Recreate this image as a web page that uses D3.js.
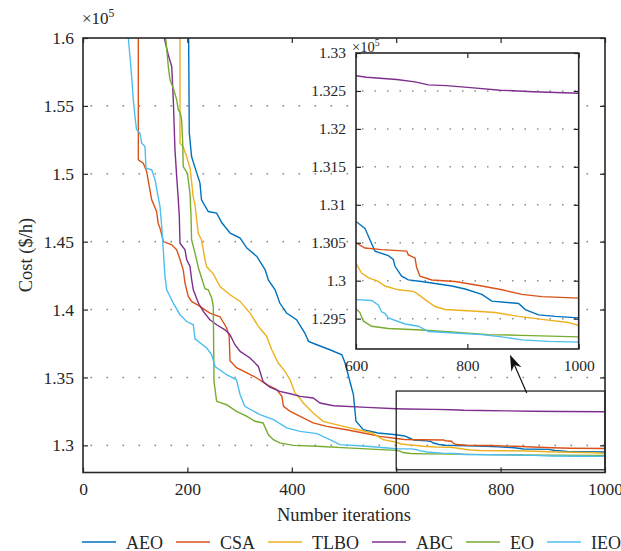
<!DOCTYPE html>
<html>
<head>
<meta charset="utf-8">
<script src="https://d3js.org/d3.v7.min.js"></script>
<style>
  body { margin: 0; background: #fff; }
  text { font-family: "Liberation Serif", "Times New Roman", serif; fill: #262626; }
</style>
</head>
<body>
<script>
// cost values are in units of 10^5 $/h
var names = ["AEO", "CSA", "TLBO", "ABC", "EO", "IEO"]
var colors = ["#0072BD", "#D95319", "#EDB120", "#7E2F8E", "#77AC30", "#4DBEEE"]

var aeoIter = [202, 203.6, 208, 216, 224, 227, 240, 256, 266, 282, 301, 314, 333, 349, 355, 368, 377, 390, 409, 425, 432, 448, 473, 496, 502, 512, 518, 523, 537, 565, 600, 616, 625, 634, 658, 667, 670, 682, 694, 718, 772, 796, 826, 844, 892, 904, 928, 958, 1000]
var aeoCost = [1.62, 1.5301, 1.5127, 1.5029, 1.4933, 1.4808, 1.4722, 1.4710, 1.4639, 1.4563, 1.4526, 1.4453, 1.4391, 1.4293, 1.4219, 1.4146, 1.4048, 1.3975, 1.3925, 1.3827, 1.3766, 1.3741, 1.3704, 1.3667, 1.3606, 1.3461, 1.3373, 1.3177, 1.3115, 1.3091, 1.3078, 1.3069, 1.3054, 1.3039, 1.3033, 1.3028, 1.3019, 1.3006, 1.3001, 1.2999, 1.2993, 1.2989, 1.2982, 1.2973, 1.2970, 1.2962, 1.2955, 1.2953, 1.2951]

var csaIter = [106, 106, 115.5, 122, 127, 131.6, 141, 144, 147.5, 154, 170, 179.5, 186, 192, 195.4, 201.7, 208, 224, 243, 262.5, 275, 280, 281.6, 294, 314, 333, 352, 371, 381, 384, 397, 416, 441, 467, 505, 537, 569, 600, 616, 646, 691, 694, 706, 709, 715, 736, 778, 826, 862, 898, 934, 1000]
var csaCost = [1.62, 1.5102, 1.5078, 1.5016, 1.4906, 1.4808, 1.4722, 1.4636, 1.4600, 1.4501, 1.4477, 1.4440, 1.4367, 1.4293, 1.4195, 1.4097, 1.4060, 1.4023, 1.3974, 1.3947, 1.3866, 1.3807, 1.3623, 1.3572, 1.3533, 1.3496, 1.3447, 1.3410, 1.3361, 1.3287, 1.3250, 1.3213, 1.3165, 1.3140, 1.3115, 1.3091, 1.3066, 1.3050, 1.3043, 1.3041, 1.3039, 1.3034, 1.3030, 1.3017, 1.3006, 1.3001, 1.2999, 1.2993, 1.2988, 1.2982, 1.2979, 1.2977]

var tlboIter = [185.8, 185.8, 192, 198.7, 205, 208, 211, 214.6, 217.8, 221, 227, 233.7, 237, 249.6, 262.5, 281.6, 301, 320, 336, 352, 361.5, 374, 387, 396.6, 406, 412.5, 422, 441, 460, 499, 527, 554, 575, 600, 610, 622, 640, 652, 676, 703, 712, 724, 742, 760, 808, 850, 892, 934, 981, 1000]
var tlboCost = [1.62, 1.5225, 1.5198, 1.5124, 1.5043, 1.4943, 1.4832, 1.4771, 1.4661, 1.4558, 1.4514, 1.4367, 1.4315, 1.4263, 1.4170, 1.4109, 1.4060, 1.3974, 1.3876, 1.3802, 1.3704, 1.3606, 1.3545, 1.3483, 1.3386, 1.3361, 1.3312, 1.3238, 1.3177, 1.3140, 1.3115, 1.3091, 1.3042, 1.3023, 1.3010, 1.3004, 1.2999, 1.2993, 1.2988, 1.2986, 1.2982, 1.2975, 1.2966, 1.2962, 1.2960, 1.2958, 1.2953, 1.2949, 1.2945, 1.2941]

var abcIter = [150, 155.7, 163.4, 170, 173, 176.2, 179.5, 182.6, 184.5, 185.8, 195.4, 198.7, 205, 208.2, 211.3, 221, 230.5, 243, 256, 272, 281.6, 291, 301, 320, 336, 345, 358, 377, 397, 416, 441, 454, 480, 544, 600, 619, 673, 706, 730, 763, 811, 859, 918, 1000]
var abcCost = [1.61, 1.6000, 1.5875, 1.5789, 1.5544, 1.5176, 1.4979, 1.4808, 1.4685, 1.4489, 1.4440, 1.4367, 1.4317, 1.4219, 1.4146, 1.4048, 1.3986, 1.3925, 1.3888, 1.3851, 1.3815, 1.3741, 1.3692, 1.3643, 1.3581, 1.3469, 1.3428, 1.3397, 1.3380, 1.3361, 1.3349, 1.3312, 1.3292, 1.3280, 1.3270, 1.3268, 1.3265, 1.3262, 1.3258, 1.3257, 1.3254, 1.3251, 1.3249, 1.3247]

var eoIter = [150, 158.4, 163.4, 166.7, 173, 179.5, 182.6, 185.8, 189, 191, 192, 200, 205, 207, 208, 214.6, 221, 227, 233.7, 240, 246.6, 249.6, 251, 256, 275, 294, 314, 329.5, 345, 355, 364.6, 377, 403, 448, 505, 600, 607, 613, 628, 658, 718, 778, 838, 898, 1000]
var eoCost = [1.63, 1.6000, 1.5789, 1.5691, 1.5630, 1.5544, 1.5470, 1.5455, 1.5397, 1.5225, 1.5053, 1.5004, 1.4852, 1.4685, 1.4514, 1.4416, 1.4308, 1.4234, 1.4153, 1.4146, 1.4085, 1.4023, 1.3469, 1.3324, 1.3299, 1.3250, 1.3213, 1.3177, 1.3165, 1.3079, 1.3042, 1.3018, 1.3000, 1.2993, 1.2981, 1.2963, 1.2958, 1.2947, 1.2940, 1.2937, 1.2935, 1.2932, 1.2929, 1.2928, 1.2926]

var ieoIter = [84, 86.8, 90, 93.3, 96.4, 99.6, 102.5, 109, 112.5, 118.8, 120.7, 131.6, 138, 147.5, 150.8, 153.8, 157, 160.3, 166.7, 173, 185.8, 198.7, 211.3, 214.6, 237, 246.6, 253, 275, 294, 301, 310, 339, 365, 390, 416, 448, 473, 492, 544, 600, 628, 640, 646, 652, 658, 688, 712, 730, 778, 826, 862, 898, 946, 1000]
var ieoCost = [1.615, 1.6000, 1.5862, 1.5715, 1.5544, 1.5421, 1.5327, 1.5299, 1.5225, 1.5200, 1.5041, 1.5029, 1.4955, 1.4759, 1.4611, 1.4440, 1.4244, 1.4146, 1.4096, 1.4048, 1.3962, 1.3912, 1.3888, 1.3785, 1.3717, 1.3667, 1.3581, 1.3520, 1.3483, 1.3373, 1.3287, 1.3226, 1.3189, 1.3128, 1.3103, 1.3086, 1.3042, 1.3005, 1.2993, 1.2975, 1.2974, 1.2968, 1.2959, 1.2957, 1.2951, 1.2943, 1.2940, 1.2933, 1.2931, 1.2929, 1.2926, 1.2922, 1.2920, 1.2919]

var xTicks = [0, 200, 400, 600, 800, 1000]
var yTicks = [1.3, 1.35, 1.4, 1.45, 1.5, 1.55, 1.6]
var insetXTicks = [600, 800, 1000]
var insetYTicks = [1.295, 1.3, 1.305, 1.31, 1.315, 1.32, 1.325, 1.33]

var iters = [aeoIter, csaIter, tlboIter, abcIter, eoIter, ieoIter]
var costs = [aeoCost, csaCost, tlboCost, abcCost, eoCost, ieoCost]
var series = names.map(function (n, i) {
    return {name: n, color: colors[i], values: iters[i].map(function (t, j) { return {t: t, c: costs[i][j]} })}
})

var width = 621, height = 551
var serif = "'Liberation Serif', 'Times New Roman', serif"
var svg = d3.select("body").append("svg").attr("width", width).attr("height", height)

// main axes
var x = d3.scaleLinear().domain([0, 1000]).range([83, 605])
var y = d3.scaleLinear().domain([1.28, 1.6]).range([472.5, 38])
var axisColor = "#262626"

svg.append("clipPath").attr("id", "clipMain").append("rect")
    .attr("x", x(0)).attr("y", y(1.6)).attr("width", x(1000) - x(0)).attr("height", y(1.28) - y(1.6))

// dotted grid
svg.append("g").selectAll("line").data(yTicks.slice(0, -1)).enter().append("line")
    .attr("x1", x(0)).attr("x2", x(1000))
    .attr("y1", function (d) { return y(d) }).attr("y2", function (d) { return y(d) })
    .attr("stroke", "#8c8c8c").attr("stroke-width", 1.6)
    .attr("stroke-dasharray", "1.6,14.4").attr("stroke-dashoffset", -7.5)

var line = d3.line().x(function (d) { return x(d.t) }).y(function (d) { return y(d.c) })
svg.append("g").attr("clip-path", "url(#clipMain)").selectAll("path").data(series).enter().append("path")
    .attr("d", function (d) { return line(d.values) })
    .attr("fill", "none").attr("stroke", function (d) { return d.color }).attr("stroke-width", 1.4)

// zoom rectangle
svg.append("rect").attr("x", x(600)).attr("y", y(1.34)).attr("width", x(1000) - x(600)).attr("height", y(1.282) - y(1.34))
    .attr("fill", "none").attr("stroke", "#111").attr("stroke-width", 1.2)

function fmt0(d) { return String(d) }
function fmt2(d) { return String(+d.toFixed(2)) }
function fmt3(d) { return String(+d.toFixed(3)) }

function styleAxis(g, size) {
    g.attr("font-family", serif).attr("font-size", size)
    g.select(".domain").remove()
    g.selectAll("line").attr("stroke", axisColor).attr("stroke-width", 1.2)
    g.selectAll("text").attr("fill", axisColor).attr("font-family", serif).style("font-family", serif)
}

svg.append("g").attr("transform", "translate(0," + y(1.28) + ")")
    .call(d3.axisBottom(x).tickValues(xTicks).tickSizeInner(-5).tickSizeOuter(0).tickPadding(10).tickFormat(fmt0))
    .call(styleAxis, 17.5)
svg.append("g").attr("transform", "translate(0," + y(1.6) + ")")
    .call(d3.axisTop(x).tickValues(xTicks).tickSizeInner(-5).tickSizeOuter(0).tickFormat(""))
    .call(styleAxis, 17.5)
svg.append("g").attr("transform", "translate(" + x(0) + ",0)")
    .call(d3.axisLeft(y).tickValues(yTicks).tickSizeInner(-5).tickSizeOuter(0).tickPadding(9).tickFormat(fmt2))
    .call(styleAxis, 17.5)
svg.append("g").attr("transform", "translate(" + x(1000) + ",0)")
    .call(d3.axisRight(y).tickValues(yTicks).tickSizeInner(-5).tickSizeOuter(0).tickFormat(""))
    .call(styleAxis, 17.5)
svg.append("rect").attr("x", x(0)).attr("y", y(1.6)).attr("width", x(1000) - x(0)).attr("height", y(1.28) - y(1.6))
    .attr("fill", "none").attr("stroke", axisColor).attr("stroke-width", 1.6)

// arrow from zoom box to inset
var a0 = [x(850), y(1.3385)], a1 = [x(818), y(1.3667)]
var dx = a1[0] - a0[0], dy = a1[1] - a0[1], len = Math.sqrt(dx * dx + dy * dy)
var ux = dx / len, uy = dy / len, px = -uy, py = ux
svg.append("line").attr("x1", a0[0]).attr("y1", a0[1]).attr("x2", a1[0] - ux * 8).attr("y2", a1[1] - uy * 8)
    .attr("stroke", "#111").attr("stroke-width", 1.2)
svg.append("path").attr("fill", "#111").attr("d",
    "M" + a1[0] + "," + a1[1] +
    "L" + (a1[0] - ux * 16 + px * 5.5) + "," + (a1[1] - uy * 16 + py * 5.5) +
    "L" + (a1[0] - ux * 11) + "," + (a1[1] - uy * 11) +
    "L" + (a1[0] - ux * 16 - px * 5.5) + "," + (a1[1] - uy * 16 - py * 5.5) + "Z")

// inset axes
var xi = d3.scaleLinear().domain([600, 1000]).range([356, 578.7])
var yi = d3.scaleLinear().domain([1.291, 1.33]).range([349, 53])

svg.append("clipPath").attr("id", "clipInset").append("rect")
    .attr("x", xi(600)).attr("y", yi(1.33)).attr("width", xi(1000) - xi(600)).attr("height", yi(1.291) - yi(1.33))
svg.append("rect").attr("x", xi(600)).attr("y", yi(1.33)).attr("width", xi(1000) - xi(600)).attr("height", yi(1.291) - yi(1.33))
    .attr("fill", "#fff")

svg.append("g").selectAll("line").data(insetYTicks.slice(0, -1)).enter().append("line")
    .attr("x1", xi(600)).attr("x2", xi(1000))
    .attr("y1", function (d) { return yi(d) }).attr("y2", function (d) { return yi(d) })
    .attr("stroke", "#8c8c8c").attr("stroke-width", 1.5)
    .attr("stroke-dasharray", "1.5,11").attr("stroke-dashoffset", -6)

var lineInset = d3.line().x(function (d) { return xi(d.t) }).y(function (d) { return yi(d.c) })
svg.append("g").attr("clip-path", "url(#clipInset)").selectAll("path").data(series).enter().append("path")
    .attr("d", function (d) { return lineInset(d.values.filter(function (v) { return v.t >= 560 })) })
    .attr("fill", "none").attr("stroke", function (d) { return d.color }).attr("stroke-width", 1.4)

svg.append("g").attr("transform", "translate(0," + yi(1.291) + ")")
    .call(d3.axisBottom(xi).tickValues(insetXTicks).tickSizeInner(-5).tickSizeOuter(0).tickPadding(11).tickFormat(fmt0))
    .call(styleAxis, 15.5)
svg.append("g").attr("transform", "translate(0," + yi(1.33) + ")")
    .call(d3.axisTop(xi).tickValues(insetXTicks).tickSizeInner(-5).tickSizeOuter(0).tickFormat(""))
    .call(styleAxis, 15.5)
svg.append("g").attr("transform", "translate(" + xi(600) + ",0)")
    .call(d3.axisLeft(yi).tickValues(insetYTicks).tickSizeInner(-5).tickSizeOuter(0).tickPadding(10).tickFormat(fmt3))
    .call(styleAxis, 15.5)
svg.append("g").attr("transform", "translate(" + xi(1000) + ",0)")
    .call(d3.axisRight(yi).tickValues(insetYTicks).tickSizeInner(-5).tickSizeOuter(0).tickFormat(""))
    .call(styleAxis, 15.5)
svg.append("rect").attr("x", xi(600)).attr("y", yi(1.33)).attr("width", xi(1000) - xi(600)).attr("height", yi(1.291) - yi(1.33))
    .attr("fill", "none").attr("stroke", axisColor).attr("stroke-width", 1.6)

// exponent labels
function exponent(xp, yp, size) {
    var t = svg.append("text").attr("x", xp).attr("y", yp).attr("font-size", size)
    t.append("tspan").text("\u00d710")
    t.append("tspan").attr("font-size", size * 0.68).attr("dy", -size * 0.4).text("5")
}
exponent(82, 24, 17)
exponent(352, 52, 14.5)

// axis titles
svg.append("text").attr("x", (x(0) + x(1000)) / 2).attr("y", 521).attr("text-anchor", "middle")
    .attr("font-size", 18.5).text("Number iterations")
svg.append("text").attr("transform", "translate(32," + 255 + ") rotate(-90)").attr("text-anchor", "middle")
    .attr("font-size", 18.5).text("Cost ($/h)")

// legend
var legend = svg.append("g").attr("transform", "translate(82,542)")
var lx = 0
series.forEach(function (s) {
    legend.append("line").attr("x1", lx).attr("x2", lx + 34).attr("y1", 0).attr("y2", 0)
        .attr("stroke", s.color).attr("stroke-width", 1.4)
    var t = legend.append("text").attr("x", lx + 44).attr("y", 6.5).attr("font-size", 18).text(s.name)
    lx += 44 + t.node().getComputedTextLength() + 13
})
</script>
</body>
</html>
